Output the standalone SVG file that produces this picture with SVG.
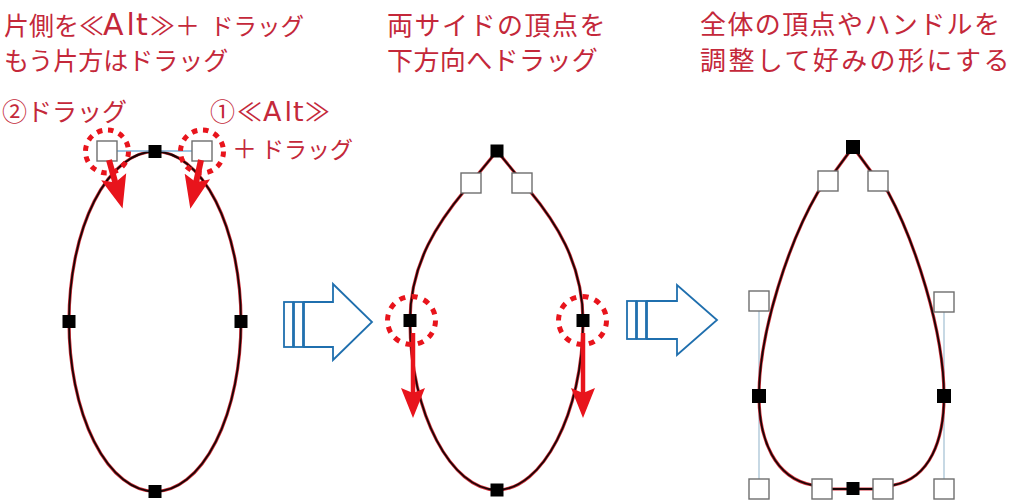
<svg xmlns="http://www.w3.org/2000/svg" width="1024" height="503" viewBox="0 0 1024 503">
<defs>
<style>
.t{font-family:"Noto Sans CJK JP","Noto Sans",sans-serif;fill:#c4283a}
.t1{font-size:25px}
.t2{font-size:26px}
.lat{font-family:"DejaVu Sans","Noto Sans CJK JP",sans-serif}
.curveR{fill:none;stroke:#d0303a;stroke-width:3.2;stroke-linejoin:round}
.curveK{fill:none;stroke:#1a0505;stroke-width:1.8;stroke-linejoin:round}
.anchor{fill:#000}
.handle{fill:#fff;stroke:#6e6e6e;stroke-width:1.4}
.hline{stroke:#7fb0d6;stroke-width:1.3;fill:none}
.hline2{stroke:#a9c4d6;stroke-width:1.3;fill:none}
.dot{fill:none;stroke:#e8141c;stroke-width:5}
.shaft{stroke:#e8141c;fill:none}
.flow{fill:#fff;stroke:#1f6fae;stroke-width:1.8;stroke-linejoin:miter}
</style>
<marker id="head" viewBox="0 -13 32 26" refX="10" refY="0" markerWidth="32" markerHeight="26" markerUnits="userSpaceOnUse" orient="auto">
<path d="M0,-12 L30,0 L0,12 L5,0 Z" fill="#e8141c"/>
</marker>
<marker id="headL" viewBox="0 -14 34 28" refX="12" refY="0" markerWidth="34" markerHeight="28" markerUnits="userSpaceOnUse" orient="auto">
<path d="M0,-13 L33,0 L0,13 L6,0 Z" fill="#e8141c"/>
</marker>
<path id="p1" d="M155,151.5 A86,170 0 0 1 241,321.5 A86,170 0 0 1 155,491.5 A86,170 0 0 1 69,321.5 A86,170 0 0 1 155,151.5 Z"/>
<path id="p2" d="M497,151 L465,190 C440,220 410,262 410,321 C410,414 452,490 497,490 C542,490 583,414 583,321 C583,262 554,220 529,190 Z"/>
<path id="p3" d="M853,147 L828,181 L818,192 C790,240 759,330 759,396 C759,440 775,478 812,485 L822,489 L883,489 L894,485 C930,478 944,440 944,396 C944,330 914,240 888,192 L878,181 Z"/>
</defs>
<rect width="1024" height="503" fill="#fff"/>

<g id="labels">
<text class="t t1" y="35"><tspan x="4">片側を</tspan><tspan x="79">≪</tspan><tspan class="lat" x="103" font-size="30" dx="0 3 1">Alt</tspan><tspan x="150">≫</tspan><tspan x="175">＋</tspan><tspan x="210" font-size="23.5">ドラッグ</tspan></text>
<text class="t t1" x="4" y="70" font-size="24.5">もう片方はドラッグ</text>
<text class="t t1" x="2" y="121">②ドラッグ</text>
<text class="t t1" y="121"><tspan x="210">①</tspan><tspan x="237">≪</tspan><tspan class="lat" x="263" font-size="27" dx="0 3 1">Alt</tspan><tspan x="305">≫</tspan></text>
<text class="t t1" y="158"><tspan x="232">＋</tspan><tspan x="261" font-size="23">ドラッグ</tspan></text>
<text class="t t2" x="387" y="35" letter-spacing="1.5">両サイドの頂点を</text>
<text class="t t2" x="387" y="70" letter-spacing="0.4">下方向へドラッグ</text>
<text class="t t2" x="700" y="34" letter-spacing="1.4">全体の頂点やハンドルを</text>
<text class="t t2" x="700" y="70" letter-spacing="2.4">調整して好みの形にする</text>
</g>

<g id="shape1">
<use href="#p1" class="curveR"/>
<use href="#p1" class="curveK"/>
<line class="hline" x1="117" y1="151" x2="192" y2="151"/>
<rect class="handle" x="97" y="141" width="20" height="20"/>
<rect class="handle" x="192" y="141" width="20" height="20"/>
<rect class="anchor" x="148.5" y="145" width="13" height="13"/>
<rect class="anchor" x="62.5" y="315" width="13" height="13"/>
<rect class="anchor" x="234.5" y="315" width="13" height="13"/>
<rect class="anchor" x="148.5" y="485" width="13" height="13"/>
</g>

<g id="shape2">
<use href="#p2" class="curveR"/>
<use href="#p2" class="curveK"/>
<rect class="handle" x="461" y="173" width="20" height="20"/>
<rect class="handle" x="512" y="173" width="20" height="20"/>
<rect class="anchor" x="490.5" y="144.5" width="13" height="13"/>
<rect class="anchor" x="403.5" y="314" width="13" height="13"/>
<rect class="anchor" x="576.5" y="314" width="13" height="13"/>
<rect class="anchor" x="490.5" y="483.5" width="13" height="13"/>
</g>

<g id="shape3">
<line class="hline2" x1="759" y1="310" x2="759" y2="479"/>
<line class="hline2" x1="944" y1="311" x2="944" y2="479"/>
<use href="#p3" class="curveR"/>
<use href="#p3" class="curveK"/>
<rect class="handle" x="818" y="171" width="20" height="20"/>
<rect class="handle" x="868" y="171" width="20" height="20"/>
<rect class="handle" x="749" y="291" width="20" height="20"/>
<rect class="handle" x="934" y="292" width="20" height="20"/>
<rect class="handle" x="749" y="479" width="20" height="20"/>
<rect class="handle" x="934" y="479" width="20" height="20"/>
<rect class="handle" x="812" y="479" width="20" height="20"/>
<rect class="handle" x="873" y="479" width="20" height="20"/>
<rect class="anchor" x="846" y="140" width="14" height="14"/>
<rect class="anchor" x="752" y="389" width="14" height="14"/>
<rect class="anchor" x="937" y="389" width="14" height="14"/>
<rect class="anchor" x="846.5" y="482" width="13" height="13"/>
</g>

<g id="highlights">
<circle class="dot" cx="107" cy="151.5" r="21.5" stroke-dasharray="5.5 5.8"/>
<circle class="dot" cx="202" cy="151.5" r="21.5" stroke-dasharray="5.5 5.8"/>
<circle class="dot" cx="411.5" cy="320.5" r="24" stroke-dasharray="6 6.5"/>
<circle class="dot" cx="582.5" cy="320.5" r="24" stroke-dasharray="6 6.5"/>
</g>

<g id="connectors">
<line class="shaft" x1="109" y1="160" x2="116.9" y2="188.3" stroke-width="6" marker-end="url(#headL)"/>
<line class="shaft" x1="201" y1="160" x2="194.8" y2="188.2" stroke-width="6" marker-end="url(#headL)"/>
<line class="shaft" x1="413" y1="333" x2="413" y2="398" stroke-width="4.5" marker-end="url(#head)"/>
<line class="shaft" x1="583" y1="333" x2="583" y2="398" stroke-width="4.5" marker-end="url(#head)"/>
</g>

<g id="flow1">
<rect class="flow" x="284" y="302" width="9" height="45"/>
<rect class="flow" x="294" y="302" width="9" height="45"/>
<path class="flow" d="M304,302 L333,302 L333,284 L372,322 L333,360 L333,347 L304,347 Z"/>
</g>
<g id="flow2">
<rect class="flow" x="627" y="301" width="9" height="38"/>
<rect class="flow" x="637" y="301" width="9" height="38"/>
<path class="flow" d="M647,301 L677,301 L677,285 L717,320 L677,355 L677,339 L647,339 Z"/>
</g>
</svg>
